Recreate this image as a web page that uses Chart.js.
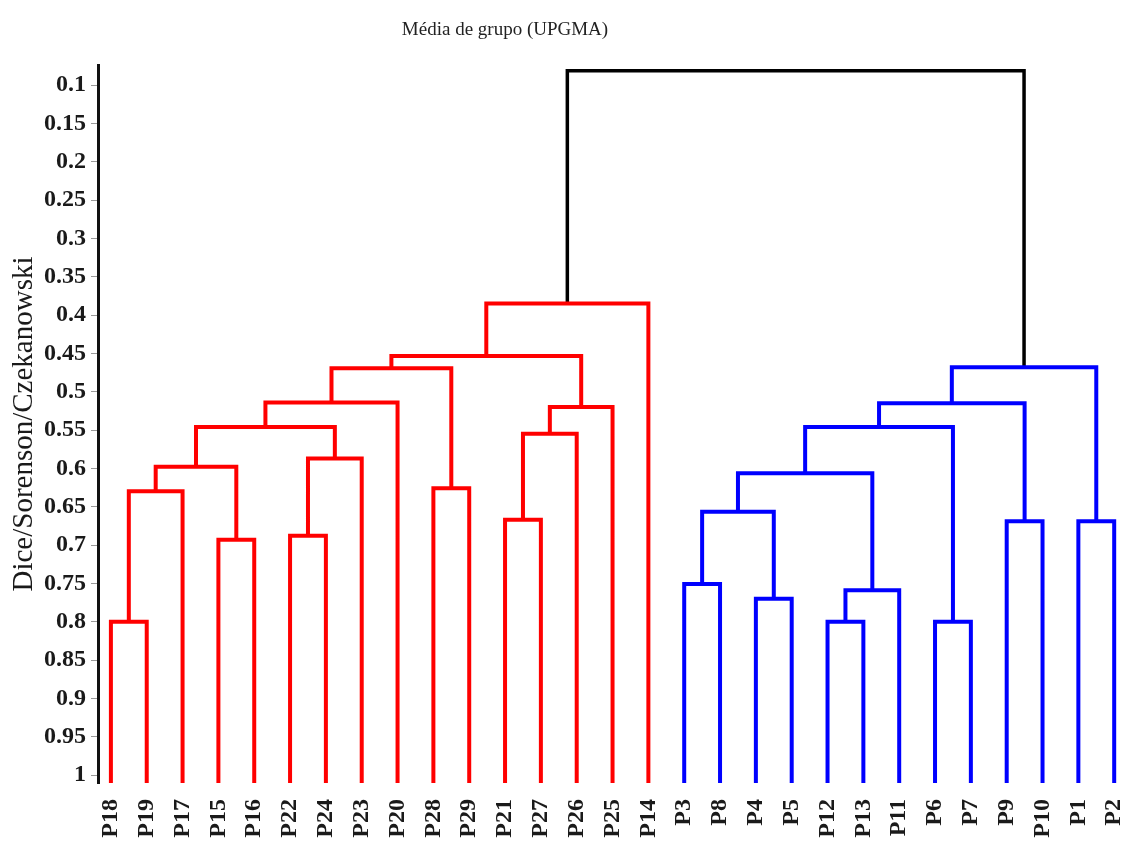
<!DOCTYPE html>
<html>
<head>
<meta charset="utf-8">
<title>Média de grupo (UPGMA)</title>
<script src="https://cdn.jsdelivr.net/npm/chart.js@4.4.1/dist/chart.umd.min.js"></script>
<style>
  body { margin: 0; background: #fff; }
  canvas { display: block; }
</style>
</head>
<body>
<canvas id="dendro" width="1121" height="842"></canvas>
<script>
// leaf order along the bottom
const leafNames = ['P18', 'P19', 'P17', 'P15', 'P16', 'P22', 'P24', 'P23', 'P20', 'P28', 'P29',
    'P21', 'P27', 'P26', 'P25', 'P14', 'P3', 'P8', 'P4', 'P5', 'P12', 'P13', 'P11', 'P6', 'P7',
    'P9', 'P10', 'P1', 'P2'];

// merges: left child, right child (0..28 = leaves, 29+ = earlier merges)
const mergeLeft  = [0, 29, 3, 30, 5, 33, 32, 35, 9, 36, 11, 39, 40, 38, 42,
                    16, 18, 44, 20, 47, 46, 23, 49, 25, 51, 27, 53, 43];
const mergeRight = [1, 2, 4, 31, 6, 7, 34, 8, 10, 37, 12, 13, 14, 41, 15,
                    17, 19, 45, 21, 22, 48, 24, 50, 26, 52, 28, 54, 55];
const mergeHeight = [0.80, 0.63, 0.693, 0.598, 0.688, 0.587, 0.546, 0.514, 0.626, 0.4695, 0.667, 0.555, 0.520, 0.4535, 0.385,
                     0.751, 0.770, 0.6565, 0.80, 0.759, 0.6065, 0.80, 0.546, 0.669, 0.515, 0.669, 0.468, 0.0813];

const leafBase = 1.0104;

const yTickValues = [0.1, 0.15, 0.2, 0.25, 0.3, 0.35, 0.4, 0.45, 0.5, 0.55, 0.6, 0.65, 0.7, 0.75, 0.8, 0.85, 0.9, 0.95, 1];
const yTickLabels = ['0.1', '0.15', '0.2', '0.25', '0.3', '0.35', '0.4', '0.45', '0.5', '0.55', '0.6', '0.65', '0.7', '0.75', '0.8', '0.85', '0.9', '0.95', '1'];

const nLeaves = leafNames.length;

// x position and height of every node
function nodeX(i) {
    if (i < nLeaves) return i;
    let m = i - nLeaves;
    return (nodeX(mergeLeft[m]) + nodeX(mergeRight[m])) / 2;
}
function nodeH(i) {
    return i < nLeaves ? leafBase : mergeHeight[i - nLeaves];
}

// colour of each merge: root black, left subtree red, right subtree blue
let mergeColor = new Array(mergeHeight.length);
function paint(i, color) {
    if (i < nLeaves) return;
    mergeColor[i - nLeaves] = color;
    paint(mergeLeft[i - nLeaves], color);
    paint(mergeRight[i - nLeaves], color);
}
let rootM = mergeHeight.length - 1;
mergeColor[rootM] = '#000000';
paint(mergeLeft[rootM], '#ff0000');
paint(mergeRight[rootM], '#0000ff');

// one dataset per colour, U shapes split by gaps
let groups = {};
for (let m = 0; m < mergeHeight.length; m++) {
    let c = mergeColor[m];
    if (!groups[c]) groups[c] = [];
    let a = mergeLeft[m], b = mergeRight[m];
    let xa = nodeX(a), xb = nodeX(b);
    groups[c].push(
        {x: xa, y: nodeH(a)}, {x: xa, y: mergeHeight[m]},
        {x: xb, y: mergeHeight[m]}, {x: xb, y: nodeH(b)},
        {x: xb, y: null}
    );
}

let datasets = Object.keys(groups).map(c => ({
    data: groups[c],
    showLine: true,
    borderColor: c,
    borderWidth: c === '#000000' ? 3.5 : 4,
    pointRadius: 0,
    spanGaps: false,
    borderCapStyle: 'butt',
    borderJoinStyle: 'miter'
}));

const titlePlugin = {
    id: 'topTitle',
    afterDraw(chart) {
        let ctx = chart.ctx;
        ctx.save();
        ctx.font = '19px "Liberation Serif"';
        ctx.fillStyle = '#222';
        ctx.textAlign = 'center';
        ctx.textBaseline = 'middle';
        ctx.fillText('Média de grupo (UPGMA)', 505, 30);
        ctx.restore();
    }
};

new Chart(document.getElementById('dendro'), {
    type: 'scatter',
    data: { datasets: datasets },
    plugins: [titlePlugin],
    options: {
        responsive: false,
        animation: false,
        layout: { padding: { top: 65, left: 10, right: 0, bottom: 0 } },
        plugins: { legend: { display: false }, tooltip: { enabled: false } },
        scales: {
            x: {
                type: 'linear',
                min: -0.36,
                max: 28.19,
                afterBuildTicks: (scale) => { scale.ticks = leafNames.map((_, i) => ({value: i})); },
                afterFit: (scale) => { scale.paddingLeft = 0; scale.paddingRight = 0; scale.height = 59; },
                grid: { display: false },
                border: { display: false },
                ticks: {
                    autoSkip: false,
                    maxRotation: 90,
                    minRotation: 90,
                    padding: 8,
                    color: '#1a1a1a',
                    font: { family: 'Liberation Serif', size: 24, weight: 'bold' },
                    callback: (v) => leafNames[v]
                }
            },
            y: {
                type: 'linear',
                reverse: true,
                min: 0.0739,
                max: leafBase,
                afterBuildTicks: (scale) => { scale.ticks = yTickValues.map(v => ({value: v})); },
                grid: { display: true, drawOnChartArea: false, drawTicks: true, tickLength: 7, color: '#999', lineWidth: 1 },
                border: { display: true, color: '#111', width: 3 },
                ticks: {
                    padding: 5,
                    color: '#1a1a1a',
                    font: { family: 'Liberation Serif', size: 24, weight: 'bold' },
                    callback: (v, i) => yTickLabels[i]
                },
                title: {
                    display: true,
                    text: 'Dice/Sorenson/Czekanowski',
                    color: '#1a1a1a',
                    font: { family: 'Liberation Serif', size: 29, lineHeight: 1 },
                    padding: { top: 0, bottom: 0 }
                }
            }
        }
    }
});
</script>
</body>
</html>
